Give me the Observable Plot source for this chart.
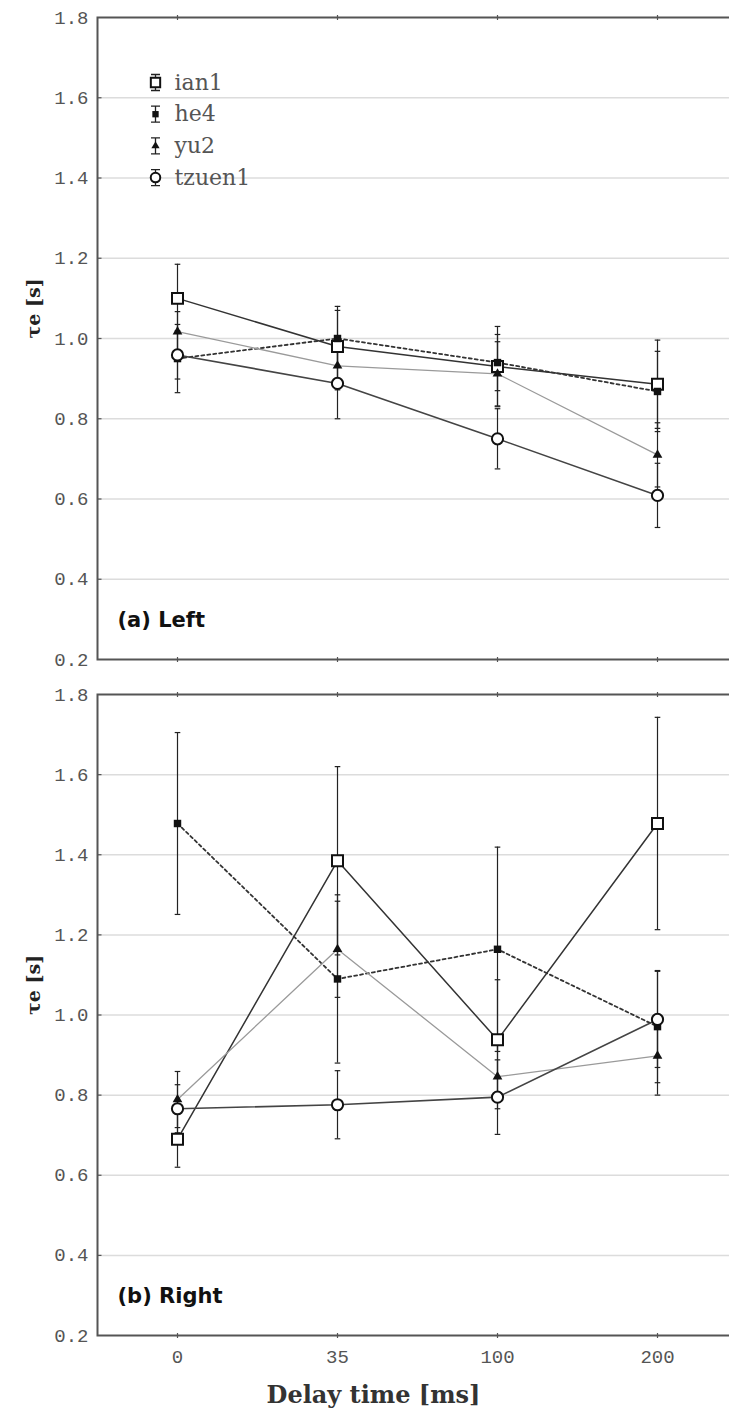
<!DOCTYPE html>
<html>
<head>
<meta charset="utf-8">
<script src="https://cdn.jsdelivr.net/npm/d3@7"></script>
<script src="https://cdn.jsdelivr.net/npm/@observablehq/plot@0.6"></script>
<style>
  html, body { margin: 0; padding: 0; background: #fff; overflow: hidden; }
  #chart svg { display: block; overflow: hidden; }
</style>
</head>
<body>
<div id="chart"></div>
<script>
// ---- data ----
const delays = ["0", "35", "100", "200"];
const series = ["ian1", "he4", "yu2", "tzuen1"];
const yTicks = [0.2, 0.4, 0.6, 0.8, 1.0, 1.2, 1.4, 1.6, 1.8];
const gridTicks = [0.4, 0.6, 0.8, 1.0, 1.2, 1.4, 1.6];

// (a) Left
const leftIan1 = [1.10, 0.98, 0.93, 0.886];
const leftIan1Err = [0.085, 0.10, 0.10, 0.11];
const leftHe4 = [0.95, 1.00, 0.94, 0.868];
const leftHe4Err = [0.085, 0.07, 0.07, 0.10];
const leftYu2 = [1.017, 0.932, 0.912, 0.71];
const leftYu2Err = [0.05, 0.06, 0.08, 0.08];
const leftTzuen1 = [0.959, 0.888, 0.75, 0.609];
const leftTzuen1Err = [0.06, 0.088, 0.075, 0.08];

// (b) Right
const rightIan1 = [0.69, 1.385, 0.938, 1.478];
const rightIan1Err = [0.07, 0.235, 0.15, 0.265];
const rightHe4 = [1.478, 1.09, 1.164, 0.971];
const rightHe4Err = [0.227, 0.21, 0.255, 0.14];
const rightYu2 = [0.789, 1.164, 0.846, 0.898];
const rightYu2Err = [0.07, 0.12, 0.08, 0.098];
const rightTzuen1 = [0.766, 0.776, 0.795, 0.989];
const rightTzuen1Err = [0.06, 0.085, 0.093, 0.12];

// ---- styles ----
const styles = {
  ian1:   {line: "#333", lw: 1.5, dash: null,  symbol: "square",   r: 6.2, fill: "white", sw: 2},
  he4:    {line: "#333", lw: 1.8, dash: "3,3", symbol: "square",   r: 4.2, fill: "#111",  sw: 0},
  yu2:    {line: "#9a9a9a", lw: 1.3, dash: null, symbol: "triangle", r: 3.6, fill: "#111", sw: 0},
  tzuen1: {line: "#444", lw: 1.6, dash: null,  symbol: "circle",   r: 5.6, fill: "white", sw: 2}
};

const capSymbol = {
  draw(ctx, size) {
    const r = Math.sqrt(size / Math.PI);
    ctx.moveTo(-r, 0); ctx.lineTo(r, 0);
  }
};
const legendBarSymbol = {
  draw(ctx, size) {
    const h = 8, w = 4.5;
    ctx.moveTo(0, -h); ctx.lineTo(0, h);
    ctx.moveTo(-w, -h); ctx.lineTo(w, -h);
    ctx.moveTo(-w, h); ctx.lineTo(w, h);
  }
};
const frameTickSymbol = {
  draw(ctx, size) {
    ctx.moveTo(0, -2.5); ctx.lineTo(0, 2.5);
  }
};
const frameTickSymbolH = {
  draw(ctx, size) {
    ctx.moveTo(0, 0); ctx.lineTo(4, 0);
  }
};

function buildRows(vals, errs) {
  const rows = [];
  series.forEach((s, si) => {
    delays.forEach((d, i) => {
      const v = vals[si][i], e = errs[si][i];
      rows.push({series: s, delay: d, value: v, lo: v - e, hi: v + e});
    });
  });
  return rows;
}

const leftRows = buildRows([leftIan1, leftHe4, leftYu2, leftTzuen1],
                           [leftIan1Err, leftHe4Err, leftYu2Err, leftTzuen1Err]);
const rightRows = buildRows([rightIan1, rightHe4, rightYu2, rightTzuen1],
                            [rightIan1Err, rightHe4Err, rightYu2Err, rightTzuen1Err]);

function panel({rows, label, showX, height, marginTop, marginBottom, legend}) {
  const marks = [
    Plot.ruleY(gridTicks, {stroke: "#dcdcdc", strokeWidth: 1.5}),
    Plot.frame({stroke: "#555", strokeWidth: 2}),
    // small tick marks on the frame
    Plot.dot(delays, {x: d => d, frameAnchor: "top", symbol: frameTickSymbol, r: 2, fill: "none", stroke: "#555", strokeWidth: 1.2}),
    Plot.dot(delays, {x: d => d, frameAnchor: "bottom", symbol: frameTickSymbol, r: 2, fill: "none", stroke: "#555", strokeWidth: 1.2}),
    Plot.dot(gridTicks, {y: d => d, frameAnchor: "left", symbol: frameTickSymbolH, r: 2, fill: "none", stroke: "#555", strokeWidth: 1.2})
  ];
  for (const s of series) {
    const st = styles[s];
    marks.push(Plot.line(rows.filter(d => d.series === s), {
      x: "delay", y: "value", stroke: st.line, strokeWidth: st.lw,
      strokeDasharray: st.dash || undefined
    }));
  }
  marks.push(Plot.ruleX(rows, {x: "delay", y1: "lo", y2: "hi", stroke: "#222", strokeWidth: 1.2}));
  marks.push(Plot.dot(rows, {x: "delay", y: "lo", symbol: capSymbol, r: 2.8, fill: "none", stroke: "#222", strokeWidth: 1.2}));
  marks.push(Plot.dot(rows, {x: "delay", y: "hi", symbol: capSymbol, r: 2.8, fill: "none", stroke: "#222", strokeWidth: 1.2}));
  for (const s of series) {
    const st = styles[s];
    marks.push(Plot.dot(rows.filter(d => d.series === s), {
      x: "delay", y: "value", symbol: st.symbol, r: st.r, fill: st.fill,
      stroke: st.sw ? "#111" : "none", strokeWidth: st.sw
    }));
  }
  // panel label
  marks.push(Plot.text([label], {
    frameAnchor: "bottom-left", dx: 20, dy: -39, lineAnchor: "middle", textAnchor: "start",
    fontFamily: "DejaVu Sans", fontWeight: "bold", fontSize: 21, fill: "#111"
  }));
  // y label
  marks.push(Plot.text(["τe [s]"], {
    frameAnchor: "left", dx: -64, rotate: -90, lineAnchor: "middle",
    fontFamily: "DejaVu Serif", fontWeight: "bold", fontSize: 19, fill: "#222"
  }));
  if (legend) {
    series.forEach((s, i) => {
      const st = styles[s];
      const dy = 65 + 31.7 * i;
      marks.push(Plot.dot([s], {frameAnchor: "top-left", dx: 58, dy, symbol: legendBarSymbol, r: 3, fill: "none", stroke: "#222", strokeWidth: 1.3}));
      marks.push(Plot.dot([s], {frameAnchor: "top-left", dx: 58, dy, symbol: st.symbol, r: st.r * 0.85, fill: st.fill, stroke: st.sw ? "#111" : "none", strokeWidth: st.sw}));
      marks.push(Plot.text([s], {frameAnchor: "top-left", dx: 77, dy, textAnchor: "start", lineAnchor: "middle",
        fontFamily: "DejaVu Serif", fontSize: 22, fill: "#555"}));
    });
  }
  if (showX) {
    marks.push(Plot.text(["Delay time [ms]"], {
      frameAnchor: "bottom", dx: -44, dy: 60, lineAnchor: "middle",
      fontFamily: "DejaVu Serif", fontWeight: "bold", fontSize: 24, fill: "#333"
    }));
  }
  return Plot.plot({
    width: 729,
    height,
    marginLeft: 97,
    marginRight: -8,
    marginTop,
    marginBottom,
    style: {fontFamily: "Liberation Mono", fontSize: "19px", color: "#555", background: "white"},
    x: {type: "point", domain: delays, padding: 0.49, axis: showX ? "bottom" : null,
        tickSize: 0, tickPadding: 14, label: null},
    y: {domain: [0.2, 1.8], ticks: yTicks, tickFormat: d3.format(".1f"),
        tickSize: 0, tickPadding: 9, label: null},
    marks
  });
}

const chart = document.getElementById("chart");
chart.appendChild(panel({rows: leftRows, label: "(a) Left", showX: false, height: 676, marginTop: 17, marginBottom: 17, legend: true}));
chart.appendChild(panel({rows: rightRows, label: "(b) Right", showX: true, height: 738, marginTop: 18, marginBottom: 79, legend: false}));
</script>
</body>
</html>
